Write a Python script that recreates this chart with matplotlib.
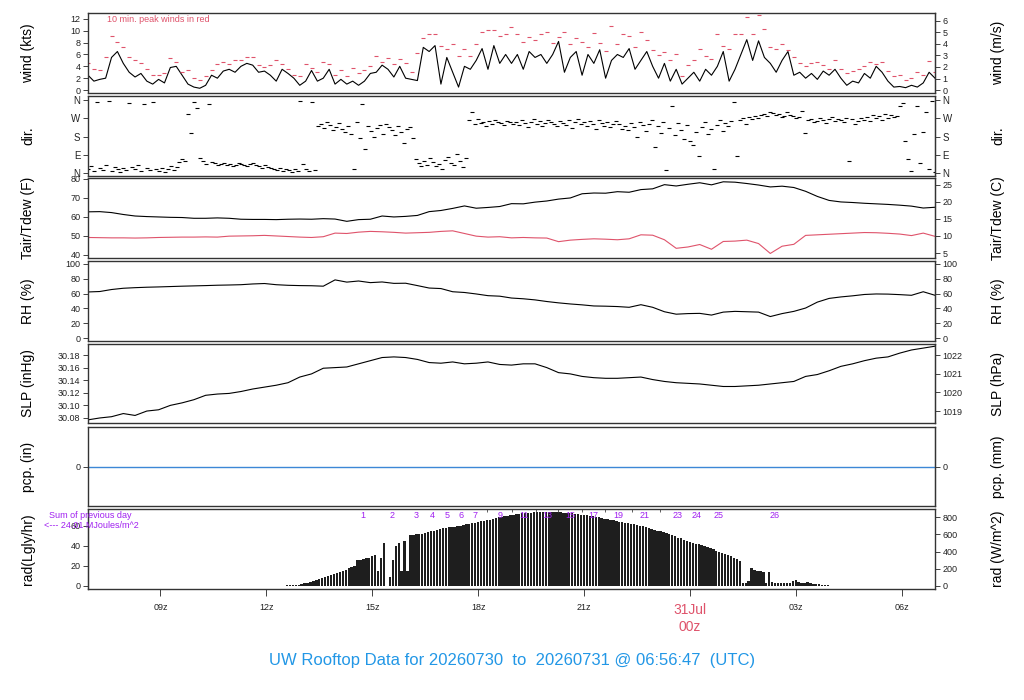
import numpy as np
import matplotlib
matplotlib.use("Agg")
import matplotlib.pyplot as plt
from matplotlib.transforms import blended_transform_factory

plt.rcParams['font.family'] = ['Liberation Sans', 'DejaVu Sans']

# hours since 2026-07-30 00z (window 06:56:47 -> 06:56:47 next day)
t_start = 6.946
t_end = 30.946

# 10-minute mean wind (kts)
wind_kts = [2.5, 1.5, 1.8, 2.0, 5.5, 6.5,
            4.5, 3.0, 2.2, 2.8, 1.5, 1.0,
            1.8, 1.2, 3.8, 4.0, 2.5, 1.0,
            0.5, 0.3, 0.8, 2.5, 2.0, 3.2,
            3.5, 3.0, 4.0, 4.5, 4.2, 3.0,
            3.2, 2.5, 1.5, 3.5, 2.8, 2.0,
            0.8, 1.5, 3.3, 1.5, 2.0, 3.5,
            1.0, 1.8, 1.0, 1.5, 0.8, 1.5,
            2.8, 3.0, 4.2, 3.5, 2.2, 4.0,
            2.0, 1.8, 1.6, 7.2, 6.5, 7.5,
            1.0, 5.5, 3.0, 0.5, 4.0, 3.5,
            5.0, 7.0, 3.5, 7.5, 4.5, 6.0,
            4.5, 6.0, 3.5, 6.5, 5.5, 6.0,
            4.5, 6.0, 8.2, 3.0, 5.5, 6.5,
            2.5, 6.0, 4.5, 6.8, 2.0, 5.0,
            6.0, 5.5, 7.0, 3.5, 5.0, 6.5,
            4.0, 2.0, 4.5, 1.5, 3.5, 1.0,
            2.0, 3.0, 1.5, 3.5, 2.5, 4.0,
            6.5, 1.5, 3.5, 6.0, 8.5, 5.0,
            8.3, 5.5, 4.5, 3.0, 5.0, 6.5,
            2.5, 3.0, 2.0, 2.8, 1.8, 3.2,
            2.5, 3.5, 2.0, 0.8, 1.5, 1.2,
            2.8, 2.0, 4.0, 3.0, 1.5, 0.5,
            0.6, 0.4, 0.8, 0.5, 1.2, 3.0, 2.0]

# 10-minute peak wind (kts)
gust_kts = [4.6, 3.5, 3.4, 5.6, 9.2, 8.1,
            7.3, 5.6, 5.0, 4.6, 3.5, 2.5,
            2.5, 2.8, 5.4, 4.7, 3.0, 3.4,
            2.0, 1.7, 2.3, 3.4, 4.4, 4.7,
            4.4, 5.1, 5.1, 5.6, 5.6, 4.2,
            3.9, 4.2, 5.1, 4.4, 3.6, 2.5,
            2.4, 4.4, 3.8, 3.0, 4.8, 4.4,
            2.5, 3.3, 2.4, 3.8, 2.9, 3.3,
            4.0, 5.7, 4.8, 5.4, 4.4, 5.3,
            4.5, 3.0, 6.3, 8.8, 9.4, 9.5,
            7.4, 6.9, 7.8, 5.7, 6.9, 5.7,
            7.8, 9.8, 10.2, 10.2, 9.1, 9.4,
            10.6, 9.4, 8.1, 9.0, 8.5, 9.4,
            9.8, 7.9, 9.0, 9.8, 7.7, 8.8,
            8.1, 7.2, 9.6, 7.9, 6.6, 10.8,
            7.8, 9.4, 9.2, 7.3, 9.8, 8.5,
            6.8, 5.9, 6.4, 5.1, 6.1, 2.4,
            4.2, 5.1, 7.0, 5.7, 5.2, 9.4,
            7.5, 6.9, 9.4, 9.4, 12.3, 9.5,
            12.6, 10.3, 7.3, 6.9, 7.8, 6.8,
            5.6, 4.6, 4.0, 4.6, 4.8, 4.3,
            3.6, 5.1, 3.5, 2.8, 3.2, 3.5,
            4.0, 4.8, 4.4, 4.7, 3.2, 2.3,
            2.5, 1.7, 2.0, 3.0, 2.5, 4.9, 3.0]

# 5-minute wind direction (deg)
wind_dir = [20, 35, 10, 350, 25, 15, 40, 355, 10, 30, 20, 5,
            25, 15, 345, 30, 20, 40, 10, 340, 25, 15, 350, 20,
            10, 25, 5, 20, 35, 15, 30, 55, 70, 60, 290, 195,
            350, 320, 75, 60, 45, 340, 55, 50, 40, 45, 50, 40,
            45, 35, 40, 50, 45, 40, 35, 45, 50, 40, 35, 25,
            40, 30, 25, 20, 15, 25, 10, 20, 15, 5, 20, 10,
            355, 45, 20, 10, 350, 15, 230, 240, 220, 250, 235, 210,
            225, 245, 215, 200, 230, 190, 20, 250, 175, 340, 120, 230,
            205, 180, 220, 235, 190, 240, 225, 210, 185, 230, 200, 150,
            215, 225, 175, 70, 50, 35, 60, 40, 75, 55, 35, 45,
            20, 65, 80, 50, 40, 95, 60, 30, 75, 260, 300, 240,
            265, 245, 250, 230, 255, 240, 260, 250, 245, 235, 255, 250,
            240, 250, 235, 260, 245, 225, 250, 265, 240, 255, 230, 245,
            260, 250, 240, 230, 255, 245, 235, 260, 220, 250, 265, 240,
            250, 230, 255, 240, 215, 260, 245, 230, 250, 225, 240, 255,
            240, 215, 230, 210, 245, 225, 180, 250, 235, 205, 240, 260,
            130, 230, 195, 250, 15, 220, 330, 185, 245, 210, 170, 235,
            160, 140, 200, 85, 225, 250, 190, 215, 20, 235, 260, 205,
            245, 230, 255, 350, 85, 260, 270, 240, 275, 265, 280, 270,
            285, 290, 280, 300, 295, 285, 290, 275, 280, 300, 285, 280,
            270, 275, 305, 195, 260, 265, 250, 255, 270, 260, 245, 265,
            275, 255, 265, 260, 250, 270, 60, 265, 240, 255, 270, 260,
            275, 255, 285, 270, 280, 260, 290, 270, 285, 275, 280, 330,
            345, 160, 70, 10, 190, 330, 50, 200, 300, 20, 355, 5]

# 20-minute temperature, dew point (F), RH (%), SLP (inHg)
tair_f = [62.7, 62.8, 62.3, 61.3, 60.5, 60.2, 60.0, 59.8, 59.7, 59.3, 59.3, 59.5,
          59.3, 58.8, 58.7, 58.7, 58.6, 58.8, 58.9, 58.8, 59.1, 58.9, 57.7, 58.6,
          58.8, 60.5, 60.0, 60.3, 60.8, 62.8, 63.4, 64.5, 65.8, 64.6, 65.0, 65.5,
          67.0, 66.9, 67.8, 68.4, 69.4, 70.0, 72.2, 72.6, 72.5, 73.3, 73.0, 74.4,
          74.8, 77.0, 76.3, 77.2, 78.0, 76.9, 78.5, 78.3, 77.6, 76.8, 75.8, 76.2,
          75.5, 73.5, 70.8, 68.7, 67.9, 67.6, 67.2, 66.9, 66.6, 66.2, 65.7, 64.7, 65.1]
tdew_f = [49.2, 49.1, 49.0, 49.0, 48.9, 49.0, 49.2, 49.3, 49.4, 49.4, 49.5, 49.4,
          49.9, 50.0, 50.1, 50.3, 50.0, 49.7, 49.4, 49.2, 49.6, 51.5, 51.3, 52.0,
          52.4, 52.2, 51.9, 51.5, 51.7, 51.9, 52.4, 52.7, 51.3, 49.9, 49.4, 49.6,
          49.0, 49.2, 49.0, 48.9, 47.0, 47.8, 48.2, 48.5, 48.3, 48.0, 48.5, 50.6,
          50.4, 48.0, 43.5, 44.2, 45.5, 43.0, 47.1, 47.3, 47.8, 46.0, 40.8, 44.6,
          45.6, 50.3, 50.6, 50.9, 51.2, 51.5, 51.8, 51.7, 51.4, 51.0, 50.2, 51.5, 49.8]
rh_pct = [62.2, 62.8, 65.5, 67.2, 68.0, 68.6, 69.0, 69.5, 70.0, 70.4, 70.8, 71.3,
          71.6, 72.0, 73.0, 73.6, 72.0, 71.2, 70.8, 70.6, 70.0, 78.5, 75.5, 77.0,
          74.8, 75.7, 73.8, 74.0, 70.8, 67.5, 66.8, 62.5, 61.5, 59.5, 57.2, 56.5,
          54.0, 53.0, 51.5, 49.3, 47.5, 46.0, 44.8, 43.3, 43.0, 42.5, 41.5, 45.0,
          41.5, 35.5, 32.2, 33.0, 33.3, 31.0, 35.0, 36.0, 35.5, 35.0, 29.0, 33.0,
          36.0, 40.5, 48.5, 53.5, 55.5, 57.0, 58.8, 59.5, 59.3, 58.6, 57.7, 62.5, 57.7]
slp_inhg = [30.077, 30.080, 30.082, 30.087, 30.084, 30.091, 30.093, 30.100, 30.104, 30.109, 30.116, 30.118,
            30.119, 30.122, 30.126, 30.129, 30.132, 30.136, 30.145, 30.150, 30.159, 30.160, 30.161, 30.166,
            30.171, 30.176, 30.177, 30.176, 30.173, 30.168, 30.167, 30.169, 30.166, 30.167, 30.169, 30.165,
            30.164, 30.166, 30.166, 30.160, 30.152, 30.150, 30.146, 30.144, 30.143, 30.143, 30.144, 30.145,
            30.141, 30.138, 30.136, 30.135, 30.134, 30.132, 30.130, 30.130, 30.131, 30.132, 30.134, 30.136,
            30.138, 30.146, 30.149, 30.155, 30.162, 30.166, 30.171, 30.175, 30.177, 30.183, 30.188, 30.191, 30.194]

# precipitation (in) at start and end of window
pcp_in = [0.0, 0.0]

# 5-minute solar radiation (W/m^2), from 12:15z to 04:05z
rad_first_hour = 12.25
rad_last_hour = 28.083
rad_wm2 = [2, 3, 4, 5, 6, 8, 10, 13, 17,
           22, 30, 40, 50, 62, 75, 85, 95, 105, 118, 128, 140,
           150, 160, 172, 190, 205, 215, 230, 300, 305, 308, 320, 330,
           345, 365, 170, 320, 495, 0, 110, 300, 460, 495, 170, 520,
           170, 590, 595, 600, 610, 605, 620, 630, 640, 645, 655, 660,
           670, 675, 680, 685, 690, 692, 700, 708, 715, 722, 730, 738,
           744, 750, 758, 765, 772, 780, 790, 798, 805, 812, 818, 824,
           830, 835, 840, 845, 848, 850, 853, 855, 858, 860, 860, 861,
           862, 862, 860, 858, 856, 854, 850, 848, 845, 840, 835, 830,
           827, 822, 816, 810, 804, 797, 790, 783, 776, 769, 762, 755,
           748, 742, 737, 731, 724, 716, 708, 700, 692, 682, 672, 662,
           652, 645, 637, 625, 615, 602, 590, 578, 562, 555, 540, 528,
           512, 500, 493, 483, 472, 460, 448, 438, 425, 412, 400, 388,
           372, 360, 345, 330, 315, 290, 38, 40, 60, 212, 185, 180,
           175, 168, 40, 165, 45, 40, 38, 36, 38, 35, 40, 55,
           68, 45, 38, 30, 42, 30, 28, 20, 18, 15, 10, 8,
           4, 2]

# cumulative MJ/m^2 markers
cum_label_hours = [14.72, 15.57, 16.25, 16.71, 17.13, 17.53, 17.90, 18.63, 19.31,
                   19.96, 20.61, 21.27, 21.97, 22.71, 23.65, 24.18, 24.81, 26.39]
cum_labels = ['1', '2', '3', '4', '5', '6', '7', '9', '11',
              '13', '15', '17', '19', '21', '23', '24', '25', '26']
cum_tick_hours = [18.26, 18.97, 19.65, 20.27, 20.95, 21.60, 22.37, 23.16]

xtick_hours = [9, 12, 15, 18, 21, 24, 27, 30]
xtick_labels = ['09z', '12z', '15z', '18z', '21z', '', '03z', '06z']

RED = '#DF536B'
BLUE = '#2297E6'
PCP_BLUE = '#3c87d6'
PURPLE = '#A020F0'
FRAME = '#333333'

W, H = 1024, 700
fig = plt.figure(figsize=(W / 100, H / 100), dpi=100)

tick_kw = dict(direction='out', length=3.5, width=0.6, labelsize=6.5, pad=2, colors='#222222')


def panel(top, bottom, left_label, right_label):
    ax = fig.add_axes([88 / W, 1 - bottom / H, (935 - 88) / W, (bottom - top) / H])
    ax.set_xlim(t_start, t_end)
    for s in ax.spines.values():
        s.set_color(FRAME)
        s.set_linewidth(1.0)
    ax.tick_params(axis='x', bottom=False, labelbottom=False)
    ax.tick_params(axis='y', **tick_kw)
    yc = 1 - (top + bottom) / 2 / H
    fig.text(28 / W, yc, left_label, rotation=90, ha='center', va='center', fontsize=10)
    fig.text(998 / W, yc, right_label, rotation=90, ha='center', va='center', fontsize=10)
    return ax


def right_axis(ax, fwd, inv, ticks, labels=None):
    sec = ax.secondary_yaxis('right', functions=(fwd, inv))
    sec.set_yticks(ticks, labels if labels is not None else [str(t) for t in ticks])
    sec.tick_params(**tick_kw)
    sec.spines['right'].set_color(FRAME)
    return sec


# wind speed
ax = panel(13, 93, 'wind (kts)', 'wind (m/s)')
t = np.linspace(t_start, t_end, len(wind_kts))
ax.plot(t, wind_kts, color='black', lw=0.8)
ax.plot(t, gust_kts, ls='none', marker='_', ms=3, mew=0.8, color=RED)
ax.set_ylim(-0.5, 13.0)
ax.set_yticks(range(0, 13, 2))
right_axis(ax, lambda v: v / 1.94384, lambda v: v * 1.94384, list(range(0, 7)))
fig.text(107 / W, 1 - 19 / H, '10 min. peak winds in red', color=RED, fontsize=6.5,
         ha='left', va='center')

# wind direction
ax = panel(96, 176, 'dir.', 'dir.')
t = np.linspace(t_start, t_end, len(wind_dir))
ax.plot(t, wind_dir, ls='none', marker='_', ms=3, mew=0.8, color='black')
ax.set_ylim(-15, 380)
ax.set_yticks([0, 90, 180, 270, 360], ['N', 'E', 'S', 'W', 'N'])
ax.tick_params(axis='y', labelsize=7)
sec = right_axis(ax, lambda v: v, lambda v: v, [0, 90, 180, 270, 360], ['N', 'E', 'S', 'W', 'N'])
sec.tick_params(labelsize=7)

# temperature / dew point
ax = panel(178, 258, 'Tair/Tdew (F)', 'Tair/Tdew (C)')
t = np.linspace(t_start, t_end, len(tair_f))
ax.plot(t, tair_f, color='black', lw=0.8)
ax.plot(t, tdew_f, color=RED, lw=0.8)
ax.set_ylim(38.4, 80.5)
ax.set_yticks([40, 50, 60, 70, 80])
right_axis(ax, lambda v: (v - 32) / 1.8, lambda v: v * 1.8 + 32, [5, 10, 15, 20, 25])

# relative humidity
ax = panel(261, 341, 'RH (%)', 'RH (%)')
t = np.linspace(t_start, t_end, len(rh_pct))
ax.plot(t, rh_pct, color='black', lw=0.8)
ax.set_ylim(-4, 104)
ax.set_yticks(range(0, 101, 20))
right_axis(ax, lambda v: v, lambda v: v, list(range(0, 101, 20)))

# sea level pressure
ax = panel(344, 423, 'SLP (inHg)', 'SLP (hPa)')
t = np.linspace(t_start, t_end, len(slp_inhg))
ax.plot(t, slp_inhg, color='black', lw=0.8)
ax.set_ylim(30.072, 30.1975)
slp_ticks = [30.08, 30.10, 30.12, 30.14, 30.16, 30.18]
ax.set_yticks(slp_ticks, [f'{v:.2f}' for v in slp_ticks])
right_axis(ax, lambda v: v * 33.8639, lambda v: v / 33.8639, [1019, 1020, 1021, 1022])

# precipitation
ax = panel(427, 506, 'pcp. (in)', 'pcp. (mm)')
ax.plot([t_start, t_end], pcp_in, color=PCP_BLUE, lw=1.0)
ax.set_ylim(-1, 1)
ax.set_yticks([0])
right_axis(ax, lambda v: v * 25.4, lambda v: v / 25.4, [0])

# solar radiation
ax = panel(509, 589, 'rad(Lgly/hr)', 'rad (W/m^2)')
t = np.linspace(rad_first_hour, rad_last_hour, len(rad_wm2))
ax.bar(t, rad_wm2, width=(5 / 60) * 0.8, color='#1e1e1e', linewidth=0)
ax.set_ylim(-35, 895)
ax.tick_params(axis='y', left=False, labelleft=False, right=True, labelright=True)
ax.set_yticks([0, 200, 400, 600, 800])
sec = ax.secondary_yaxis('left', functions=(lambda v: v / 11.63, lambda v: v * 11.63))
sec.set_yticks([0, 20, 40, 60])
sec.tick_params(**tick_kw)
sec.spines['left'].set_color(FRAME)

ax.set_xticks(xtick_hours, xtick_labels)
ax.tick_params(axis='x', bottom=True, labelbottom=True, direction='out', length=5,
               width=0.6, labelsize=6.5, pad=5, colors='#222222')
bt = blended_transform_factory(ax.transData, fig.transFigure)
ax.text(24, 1 - 610 / H, '31Jul', transform=bt, color=RED, fontsize=10, ha='center', va='center')
ax.text(24, 1 - 627 / H, '00z', transform=bt, color=RED, fontsize=10, ha='center', va='center')

for h, lab in zip(cum_label_hours, cum_labels):
    ax.text(h, 1 - 515 / H, lab, transform=bt, color=PURPLE, fontsize=6.5,
            ha='center', va='center', clip_on=False)
ta = blended_transform_factory(ax.transData, ax.transAxes)
ax.plot(cum_tick_hours, [0.985] * len(cum_tick_hours), ls='none', marker='|', ms=2.5,
        mew=0.6, color='#444444', transform=ta)

fig.text(90 / W, 1 - 515 / H, 'Sum of previous day', color=PURPLE, fontsize=6.5,
         ha='center', va='center')
fig.text(91 / W, 1 - 526 / H, '<--- 24.01 MJoules/m^2', color=PURPLE, fontsize=6.5,
         ha='center', va='center')

fig.text(0.5, 1 - 660 / H, 'UW Rooftop Data for 20260730  to  20260731 @ 06:56:47  (UTC)',
         color=BLUE, fontsize=12, ha='center', va='center')

fig.savefig('out.png', dpi=100)
